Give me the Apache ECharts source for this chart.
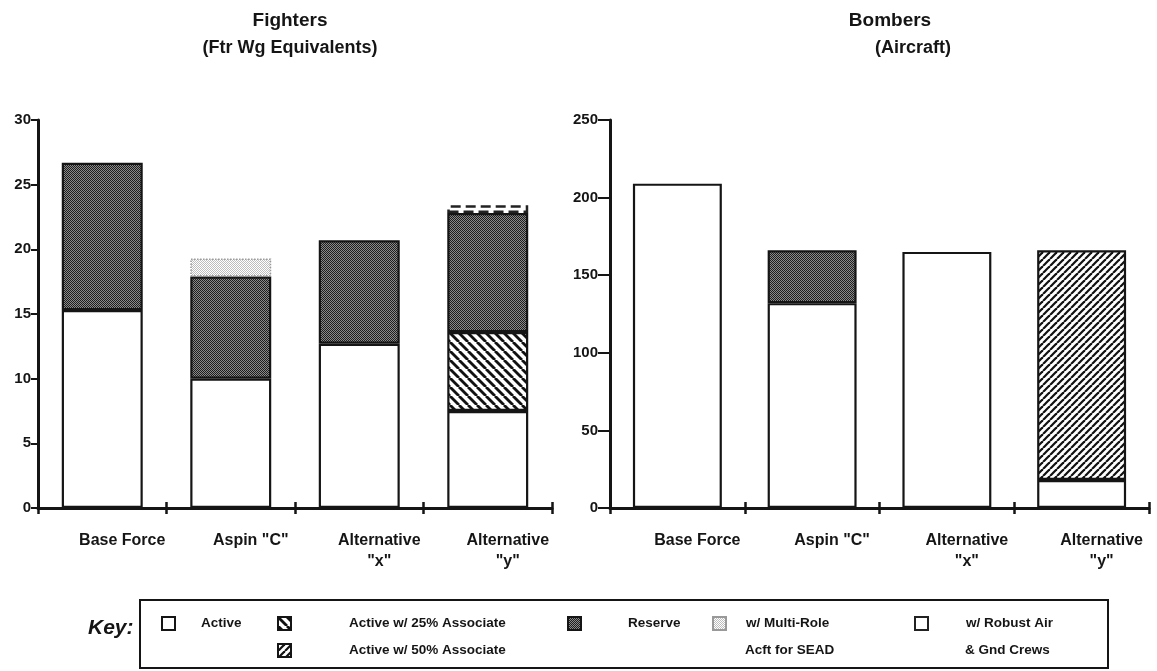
<!DOCTYPE html>
<html><head><meta charset="utf-8">
<script src="https://cdn.jsdelivr.net/npm/echarts@6/dist/echarts.min.js"></script>
<style>html,body{margin:0;padding:0;background:#fff}#c{width:1157px;height:671px}</style>
</head><body><div id="c"></div><script>
// ---- data ----
const categories = ['Base Force', 'Aspin "C"', 'Alternative\n"x"', 'Alternative\n"y"'];
const fighterActive    = [15.3, 10.0, 12.7, 7.5];
const fighterAssoc25   = [null, null, null, 6.1];
const fighterReserve   = [11.4, 7.9, 8.0, 9.2];
const fighterMultiRole = [null, 1.4, null, null];
const fighterRobust    = [null, null, null, 0.6];
const bomberActive     = [209, 132, 165, 18];
const bomberAssoc50    = [null, null, null, 148];
const bomberReserve    = [null, 34, null, null];
const fighterAxis = {min: 0, max: 30, interval: 5};
const bomberAxis  = {min: 0, max: 250, interval: 50};
const names = {
  active: 'Active',
  a25: 'Active w/ 25% Associate',
  a50: 'Active w/ 50% Associate',
  reserve: 'Reserve',
  multi: 'w/ Multi-Role',
  robust: 'w/ Robust Air'
};

// ---- patterns ----
function mk(w, h, draw) { const c = document.createElement('canvas'); c.width = w; c.height = h; const g = c.getContext('2d'); draw(g); return c; }
const reservePat = mk(2, 2, g => { g.fillStyle = '#8a8a8a'; g.fillRect(0,0,2,2); g.fillStyle = '#1e1e1e'; g.fillRect(0,0,1,1); g.fillRect(1,1,1,1); });
const multiPat = mk(2, 2, g => { g.fillStyle = '#ffffff'; g.fillRect(0,0,2,2); g.fillStyle = '#bdbdbd'; g.fillRect(0,0,1,1); g.fillRect(1,1,1,1); });
const hatch25 = mk(9, 9, g => { g.fillStyle = '#fff'; g.fillRect(0,0,9,9); g.strokeStyle = '#111'; g.lineWidth = 2.8;
  for (const k of [-9, 0, 9]) { g.beginPath(); g.moveTo(k, 0); g.lineTo(k + 9, 9); g.stroke(); } });
const hatch50 = mk(7, 7, g => { g.fillStyle = '#fff'; g.fillRect(0,0,7,7); g.strokeStyle = '#111'; g.lineWidth = 2.2;
  for (const k of [-7, 0, 7]) { g.beginPath(); g.moveTo(k, 7); g.lineTo(k + 7, 0); g.stroke(); } });

const FONT = '"Liberation Sans", Arial, Helvetica, sans-serif';
const INK = '#151515';
const bd = {borderColor: INK, borderWidth: 2.2};

function xAx(gi, inside) {
  return {
    type: 'category', gridIndex: gi, data: categories, position: 'bottom',
    axisLine: {show: !inside, lineStyle: {color: INK, width: 3}},
    axisTick: {show: true, inside: inside, length: 6, lineStyle: {color: INK, width: 2.5}},
    axisLabel: inside ? {show: false} : {
      color: INK, fontFamily: FONT, fontWeight: 'bold', fontSize: 16, lineHeight: 21,
      margin: 22, padding: [0, 0, 0, 40], interval: 0
    },
    splitLine: {show: false}
  };
}
function yAx(gi, a, margin) {
  return {
    type: 'value', gridIndex: gi, min: a.min, max: a.max, interval: a.interval,
    axisLine: {show: true, lineStyle: {color: INK, width: 3}},
    axisTick: {show: true, length: margin, lineStyle: {color: INK, width: 2}},
    axisLabel: {color: INK, fontFamily: FONT, fontWeight: 'bold', fontSize: 15, margin: margin},
    splitLine: {show: false}
  };
}
function bar(name, data, gi, style, width) {
  return {
    type: 'bar', name: name, data: data, stack: 's' + gi,
    xAxisIndex: gi * 2, yAxisIndex: gi, barWidth: width,
    itemStyle: Object.assign({}, bd, style), emphasis: {disabled: true}, animation: false
  };
}
function leg(name, x, y, gap) {
  return {
    data: [name], left: x, top: y, itemWidth: 13, itemHeight: 13, padding: 0, itemGap: 0,
    selectedMode: false, icon: 'rect',
    textStyle: {fontFamily: FONT, fontWeight: 'bold', fontSize: 13.5, color: INK, padding: [0, 0, 0, gap]}
  };
}

const chart = echarts.init(document.getElementById('c'), null, {renderer: 'canvas'});
chart.setOption({
  animation: false,
  backgroundColor: '#fff',
  grid: [
    {left: 38, top: 120, width: 514, height: 388},
    {left: 610, top: 120, width: 539, height: 388}
  ],
  xAxis: [xAx(0, false), xAx(0, true), xAx(1, false), xAx(1, true)],
  yAxis: [yAx(0, fighterAxis, 7), yAx(1, bomberAxis, 12)],
  legend: [
    leg(names.active, 161, 616, 21),
    leg(names.a25, 277, 616, 53),
    leg(names.a50, 277, 643, 53),
    leg(names.reserve, 567, 616, 42),
    leg(names.multi, 712, 616, 15),
    leg(names.robust, 914, 616, 33)
  ],
  series: [
    bar(names.active, fighterActive, 0, {color: '#fff'}, '63%'),
    bar(names.a25, fighterAssoc25, 0, {color: {image: hatch25, repeat: 'repeat'}}, '63%'),
    bar(names.reserve, fighterReserve, 0, {color: {image: reservePat, repeat: 'repeat'}}, '63%'),
    bar(names.multi, fighterMultiRole, 0, {color: {image: multiPat, repeat: 'repeat'}, borderColor: '#999', borderType: 'dotted', borderWidth: 1.5}, '63%'),
    bar(names.robust, fighterRobust, 0, {color: 'rgba(255,255,255,0)', borderType: 'dashed', borderWidth: 2.5, borderColor: '#222'}, '63%'),
    bar(names.active, bomberActive, 1, {color: '#fff'}, '66%'),
    bar(names.a50, bomberAssoc50, 1, {color: {image: hatch50, repeat: 'repeat'}}, '66%'),
    bar(names.reserve, bomberReserve, 1, {color: {image: reservePat, repeat: 'repeat'}}, '66%')
  ],
  graphic: [
    {type: 'text', x: 290, y: 11, style: {text: 'Fighters', font: 'bold 19px ' + FONT, fill: INK, textAlign: 'center'}},
    {type: 'text', x: 290, y: 39, style: {text: '(Ftr Wg Equivalents)', font: 'bold 18px ' + FONT, fill: INK, textAlign: 'center'}},
    {type: 'text', x: 890, y: 11, style: {text: 'Bombers', font: 'bold 19px ' + FONT, fill: INK, textAlign: 'center'}},
    {type: 'text', x: 913, y: 39, style: {text: '(Aircraft)', font: 'bold 18px ' + FONT, fill: INK, textAlign: 'center'}},
    {type: 'rect', shape: {x: 140, y: 600, width: 968, height: 68}, style: {fill: 'none', stroke: INK, lineWidth: 2}},
    {type: 'text', x: 88, y: 618, style: {text: 'Key:', font: 'italic bold 21px ' + FONT, fill: INK}},
    {type: 'text', x: 745, y: 643, style: {text: 'Acft for SEAD', font: 'bold 13.5px ' + FONT, fill: INK}},
    {type: 'text', x: 965, y: 643, style: {text: '& Gnd Crews', font: 'bold 13.5px ' + FONT, fill: INK}}
  ]
});
</script></body></html>
